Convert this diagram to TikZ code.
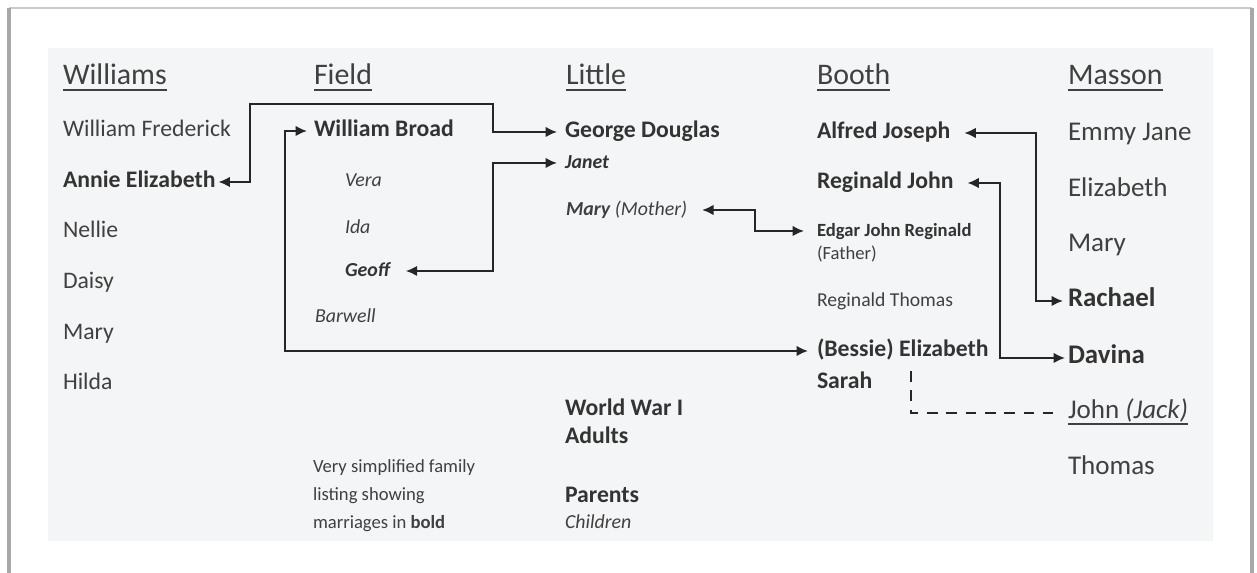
\documentclass[tikz,border=0pt]{standalone}
\usepackage{fontspec}
\setmainfont{Carlito}
\usetikzlibrary{arrows.meta}
\definecolor{ink}{HTML}{404040}
\definecolor{inkb}{HTML}{333333}
\definecolor{wire}{HTML}{262626}
\definecolor{paper}{HTML}{F4F5F6}
\definecolor{rim}{HTML}{A8A8A8}
\begin{document}
\begin{tikzpicture}[x=0.02cm, y=-0.02cm,
    every node/.style={anchor=west, inner sep=0pt, outer sep=0pt, text height=0.64em, text depth=0pt, text=ink, yshift=-1.7pt},
    head/.style={font=\fontsize{17}{20}\selectfont},
    folk/.style={font=\fontsize{13.5}{16}\selectfont},
    wed/.style={font=\fontsize{13.5}{16}\selectfont\bfseries, text=inkb},
    kid/.style={font=\fontsize{11.3}{14}\selectfont\itshape},
    wee/.style={font=\fontsize{10.6}{13}\selectfont},
    big/.style={font=\fontsize{15.4}{18}\selectfont},
    bigwed/.style={font=\fontsize{15.3}{18}\selectfont\bfseries, text=inkb},
    rule/.style={draw=ink, line width=1pt},
    wedlink/.style={draw=wire, line width=1.1pt, {Latex[length=6.5pt,width=6pt]}-{Latex[length=6.5pt,width=6pt]}}
]
\useasboundingbox (0,0) rectangle (1257,573);
\fill[white] (0,0) rectangle (1257,573);
\fill[paper] (48,48) rectangle (1213,541);
\draw[rim!60, line width=1pt] (9,8) -- (1252,8);
\draw[rim, line width=2.2pt] (9,8) -- (9,590) (1252,8) -- (1252,590);

% family names
\foreach \n/\t/\x in {hw/Williams/63, hf/Field/314, hl/Little/566, hb/Booth/817, hm/Masson/1068} {
    \node[head] (\n) at (\x, 76) {\t};
    \draw[rule] ([yshift=-3pt]\n.south west) -- ([yshift=-3pt]\n.south east);
}

% Williams
\foreach \n/\t/\y in {wa/William Frederick/128, wc/Nellie/229, wd/Daisy/280, we/Mary/331, wf/Hilda/381} {
    \node[folk] (\n) at (63, \y) {\t};
}
\node[wed] (wb) at (63, 179) {Annie Elizabeth};

% Field
\node[wed] (fa) at (314, 128) {William Broad};
\node[kid] (fb) at (345, 178) {Vera};
\node[kid] (fc) at (345, 225) {Ida};
\node[kid, font=\fontsize{11.3}{14}\selectfont\bfseries\itshape, text=inkb] (fd) at (345, 268) {Geoff};
\node[kid] (fe) at (315, 314) {Barwell};

% Little
\node[wed] (la) at (565, 129) {George Douglas};
\node[kid, font=\fontsize{11.3}{14}\selectfont\bfseries\itshape, text=inkb] (lb) at (565, 160) {Janet};
\node[kid] (lc) at (566, 207) {{\bfseries Mary} (Mother)};
\node[wed] (ld) at (565, 407) {World War I};
\node[wed] (le) at (565, 435) {Adults};
\node[wed] (lf) at (565, 494) {Parents};
\node[kid] (lg) at (565, 520) {Children};

% Booth
\node[wed] (ba) at (817, 130) {Alfred Joseph};
\node[wed] (bb) at (817, 180) {Reginald John};
\node[wee, font=\fontsize{10.6}{13}\selectfont\bfseries, text=inkb] (bc) at (817, 228) {Edgar John Reginald};
\node[wee] (bd) at (817, 251) {(Father)};
\node[wee, font=\fontsize{11.2}{13}\selectfont] (be) at (817, 298) {Reginald Thomas};
\node[wed] (bf) at (817, 348) {(Bessie) Elizabeth};
\node[wed] (bg) at (817, 380) {Sarah};

% Masson
\foreach \n/\t/\y in {ma/Emmy Jane/132, mb/Elizabeth/188, mc/Mary/243, mg/Thomas/466} {
    \node[big] (\n) at (1068, \y) {\t};
}
\node[bigwed] (md) at (1068, 298) {Rachael};
\node[bigwed] (me) at (1068, 355) {Davina};
\node[big] (mf) at (1068, 410) {John \textit{(Jack)}};
\draw[rule] ([yshift=-3pt]mf.south west) -- ([yshift=-3pt]mf.south east);

% note
\foreach \n/\t/\y in {na/Very simplified family/464, nb/listing showing/492, nc/marriages in \textbf{bold}/520} {
    \node[wee] (\n) at (313, \y) {\t};
}

% marriages
\draw[wedlink, shorten <=0.06cm, shorten >=0.16cm] (wb.east) -| (250,104) -| (la.west -| 493,0) -- (la.west);
\draw[wedlink, shorten <=0.14cm, shorten >=0.18cm] (fa.west) -| (285,0 |- bf.west) -- (bf.west);
\draw[wedlink, shorten <=0.32cm, shorten >=0.16cm] (fd.east) -| (493,0 |- lb.west) -- (lb.west);
\draw[wedlink, shorten <=0.3cm, shorten >=0.26cm] (lc.east) -| (755,0 |- bc.west) -- (bc.west);
\draw[wedlink, shorten <=0.28cm, shorten >=0.1cm] (ba.east) -| (1036,0 |- md.west) -- (md.west);
\draw[wedlink, shorten <=0.28cm, shorten >=0.06cm] (bb.east) -| (1000,0 |- me.west) -- (me.west);
\coordinate (split) at (911, 368);
\draw[wire, line width=1.1pt, dash pattern=on 6pt off 5pt, shorten >=0.26cm] (split) |- (mf.west);
\end{tikzpicture}
\end{document}
